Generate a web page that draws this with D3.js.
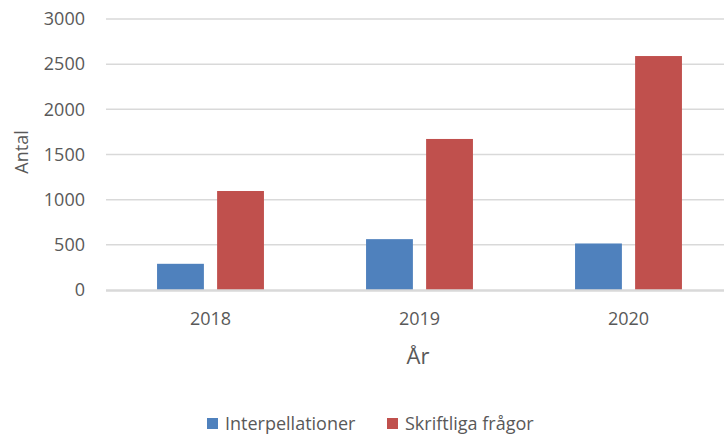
<!DOCTYPE html>
<html>
<head>
<meta charset="utf-8">
<script src="https://cdn.jsdelivr.net/npm/d3@7"></script>
<style>
  body { margin: 0; background: #fff; }
  svg { display: block; font-family: "Open Sans", sans-serif; }
</style>
</head>
<body>
<svg id="chart" width="724" height="437"></svg>
<script>
// data
var years = ["2018", "2019", "2020"];
var seriesNames = ["Interpellationer", "Skriftliga frågor"];
var interpellationer = [290, 563, 515];
var skriftligaFragor = [1096, 1672, 2590];
var yTicks = [0, 500, 1000, 1500, 2000, 2500, 3000];
var colors = ["#4F81BD", "#C0504D"];

var svg = d3.select("#chart");

var y = d3.scaleLinear().domain([0, 3000]).range([290, 19]);

// plot runs past the right edge of the picture, as in the reference
var x0 = d3.scaleBand().domain(years).range([106, 733]);
var x1 = d3.scaleBand()
    .domain(seriesNames)
    .range([0, x0.bandwidth()])
    .paddingInner(0.22)
    .paddingOuter(0.85);

// gridlines
svg.append("g")
    .selectAll("line")
    .data(yTicks.slice(1))
    .join("line")
    .attr("x1", 106)
    .attr("x2", 724)
    .attr("y1", function (d) { return y(d); })
    .attr("y2", function (d) { return y(d); })
    .attr("stroke", "#D9D9D9")
    .attr("stroke-width", 1.5);

// y axis labels
var yAxis = d3.axisLeft(y).tickValues(yTicks).tickFormat(d3.format("d")).tickSize(0).tickPadding(0);
var gy = svg.append("g").attr("transform", "translate(85,0)").call(yAxis);
gy.select(".domain").remove();
gy.selectAll("text")
    .attr("fill", "#595959")
    .style("font-size", "18px")
    .style("font-family", "Open Sans, sans-serif");

// bars
var rows = years.map(function (yr, i) {
    return { year: yr, values: [interpellationer[i], skriftligaFragor[i]] };
});

svg.append("g")
    .selectAll("g")
    .data(rows)
    .join("g")
    .attr("transform", function (d) { return "translate(" + x0(d.year) + ",0)"; })
    .selectAll("rect")
    .data(function (d) {
        return d.values.map(function (v, j) { return { name: seriesNames[j], value: v, j: j }; });
    })
    .join("rect")
    .attr("x", function (d) { return x1(d.name); })
    .attr("y", function (d) { return y(d.value); })
    .attr("width", x1.bandwidth())
    .attr("height", function (d) { return y(0) - y(d.value); })
    .attr("fill", function (d) { return colors[d.j]; });

// baseline
svg.append("line")
    .attr("x1", 106)
    .attr("x2", 724)
    .attr("y1", y(0) + 0.5)
    .attr("y2", y(0) + 0.5)
    .attr("stroke", "#D9D9D9")
    .attr("stroke-width", 2.5);

// x axis labels
var xAxis = d3.axisBottom(x0).tickSize(0).tickPadding(0);
var gx = svg.append("g").attr("transform", "translate(0,312)").call(xAxis);
gx.select(".domain").remove();
gx.selectAll("text")
    .attr("fill", "#595959")
    .style("font-size", "18px")
    .style("font-family", "Open Sans, sans-serif");

// axis titles
svg.append("text")
    .attr("x", 418)
    .attr("y", 364)
    .attr("text-anchor", "middle")
    .attr("fill", "#595959")
    .style("font-size", "22px")
    .text("År");

svg.append("text")
    .attr("transform", "translate(28,152) rotate(-90)")
    .attr("text-anchor", "middle")
    .attr("fill", "#595959")
    .style("font-size", "18px")
    .text("Antal");

// legend
var legendX = [207, 387];
var legend = svg.append("g")
    .selectAll("g")
    .data(seriesNames)
    .join("g")
    .attr("transform", function (d, i) { return "translate(" + legendX[i] + ",418)"; });

legend.append("rect")
    .attr("width", 11)
    .attr("height", 11)
    .attr("fill", function (d, i) { return colors[i]; });

legend.append("text")
    .attr("x", 18)
    .attr("y", 12)
    .attr("fill", "#595959")
    .style("font-size", "18px")
    .text(function (d) { return d; });
</script>
</body>
</html>
